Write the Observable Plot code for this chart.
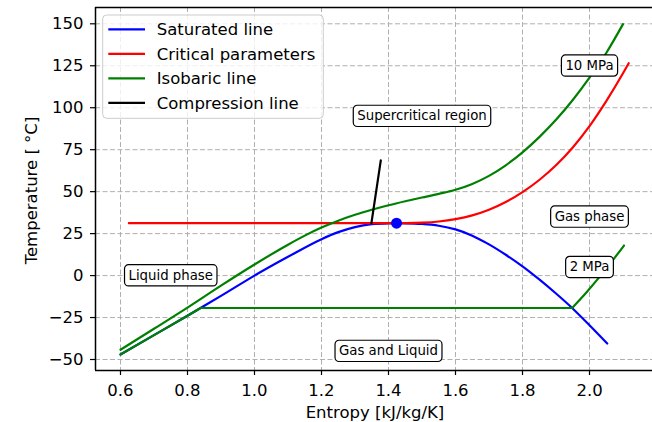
<!DOCTYPE html>
<html><head><meta charset="utf-8">
<script src="https://cdn.jsdelivr.net/npm/d3@7"></script>
<script src="https://cdn.jsdelivr.net/npm/@observablehq/plot@0.6"></script>
<style>
html,body{margin:0;padding:0;background:#fff;}
#chart{width:652px;height:422px;overflow:hidden;}
svg{display:block;}
</style></head><body><div id="chart"></div>
<script>
// ---- data ----
const xTicks = [0.6, 0.8, 1.0, 1.2, 1.4, 1.6, 1.8, 2.0];
const yTicks = [-50, -25, 0, 25, 50, 75, 100, 125, 150];
const xLabel = "Entropy [kJ/kg/K]";
const yLabel = "Temperature [ °C]";
const seriesNames = ["Saturated line", "Critical parameters", "Isobaric line", "Compression line"];
const seriesColors = ["#0000ff", "#ff0000", "#008000", "#000000"];

// saturated line
const satS = [0.6, 0.7, 0.8, 0.839, 0.9, 1.0, 1.1, 1.2, 1.25, 1.3, 1.35, 1.4, 1.424, 1.45, 1.5, 1.55, 1.6, 1.65, 1.7, 1.75, 1.8, 1.85, 1.9, 1.948, 2.0, 2.053];
const satT = [-47, -35.5, -23.9, -19.3, -12.1, 0, 11.2, 21.7, 25.9, 28.9, 30.6, 31.15, 31.2, 31.15, 30.75, 29.7, 27.5, 23.8, 18.6, 12.4, 5.5, -2.3, -10.7, -19.3, -29.6, -40.5];

// critical parameters
const critS = [0.625, 1.424, 1.45, 1.5, 1.55, 1.6, 1.65, 1.7, 1.75, 1.8, 1.85, 1.9, 1.95, 2.0, 2.05, 2.1, 2.117];
const critT = [31.2, 31.2, 31.25, 31.5, 32.2, 33.6, 35.85, 39.2, 43.8, 49.7, 56.95, 65.7, 76.3, 89.0, 103.9, 120.5, 126.5];

// isobar 10 MPa
const iso10S = [0.6, 0.7, 0.8, 0.9, 1.0, 1.1, 1.15, 1.2, 1.25, 1.3, 1.35, 1.4, 1.45, 1.5, 1.55, 1.6, 1.65, 1.7, 1.75, 1.8, 1.85, 1.9, 1.95, 2.0, 2.05, 2.1];
const iso10T = [-44.2, -31.7, -19.1, -6.0, 6.6, 18.4, 23.8, 28.6, 32.7, 36.2, 39.2, 41.9, 44.3, 46.5, 48.7, 51.1, 54.6, 59.4, 65.7, 73.4, 82.5, 92.8, 104.6, 117.9, 132.6, 149.8];

// isobar 2 MPa (liquid, two-phase, gas parts)
const iso2LiqS = [0.6, 0.7, 0.8, 0.839];
const iso2LiqT = [-47, -35.5, -23.9, -19.3];
const iso2MixS = [0.839, 1.948];
const iso2MixT = [-19.3, -19.3];
const iso2GasS = [1.948, 1.99, 2.03, 2.065, 2.103];
const iso2GasT = [-19.3, -10.2, -0.8, 8, 17.9];

// compression line
const compS = [1.349, 1.377];
const compT = [31.2, 68.6];

// critical point
const critPointS = [1.424];
const critPointT = [31.2];

const annotations = ["Supercritical region", "10 MPa", "Gas phase", "2 MPa", "Liquid phase", "Gas and Liquid"];
const annotS = [1.5, 2.0, 2.0, 2.0, 0.75, 1.4];
const annotT = [95, 125, 35, 5, 0, -45];

// ---- build ----
const rows = (S, T) => S.map((s, i) => ({s, T: T[i]}));
const xDomain = [0.5254, 2.194];
const yDomain = [-56.55, 159.71];
const fontFam = "DejaVu Sans, sans-serif";
const fmtY = d => d < 0 ? "\u2212" + Math.abs(d) : String(d);
const gridStyle = {stroke: "#b0b0b0", strokeOpacity: 1, strokeWidth: 1, strokeDasharray: "5,2.5"};
const lw = 2.2;
const lineOpts = c => ({x: "s", y: "T", stroke: c, strokeWidth: lw, curve: "monotone-x"});

const chart = Plot.plot({
  width: 652, height: 422,
  marginLeft: 95, marginRight: 0, marginTop: 7, marginBottom: 52,
  style: {fontFamily: fontFam, fontSize: "16.5px", background: "#fff", color: "#000"},
  x: {domain: xDomain, range: [95, 654], label: null},
  y: {domain: yDomain, range: [370, 7], label: null},
  marks: [
    Plot.gridX(xTicks, gridStyle),
    Plot.gridY(yTicks, gridStyle),
    Plot.line(rows(satS, satT), lineOpts(seriesColors[0])),
    Plot.line(rows(critS, critT), lineOpts(seriesColors[1])),
    Plot.line(rows(iso10S, iso10T), lineOpts(seriesColors[2])),
    Plot.line(rows(iso2LiqS, iso2LiqT), lineOpts(seriesColors[2])),
    Plot.line(rows(iso2MixS, iso2MixT), lineOpts(seriesColors[2])),
    Plot.line(rows(iso2GasS, iso2GasT), lineOpts(seriesColors[2])),
    Plot.line(rows(compS, compT), lineOpts(seriesColors[3])),
    Plot.dot(rows(critPointS, critPointT), {x: "s", y: "T", r: 5.5, fill: seriesColors[0], stroke: "none"}),
    Plot.ruleX([xDomain[0]], {stroke: "#000", strokeWidth: 1.5}),
    Plot.ruleY([yDomain[0], yDomain[1]], {stroke: "#000", strokeWidth: 1.5}),
    Plot.axisX(xTicks, {tickSize: 5, tickPadding: 9, tickFormat: d => d.toFixed(1), label: null, strokeWidth: 1.2}),
    Plot.axisY(yTicks, {tickSize: 5, tickPadding: 7, tickFormat: fmtY, label: null, strokeWidth: 1.2}),
    Plot.text(annotations.map((t, i) => ({t, s: annotS[i], T: annotT[i]})),
      {x: "s", y: "T", text: "t", fontSize: 13.3, fill: "#000", textAnchor: "middle", lineAnchor: "middle"}),
    Plot.text([xLabel], {text: d => d, frameAnchor: "bottom", textAnchor: "middle", lineAnchor: "middle", dy: 42.4, dx: 1, fontSize: 16.5, fill: "#000"}),
    Plot.text([yLabel], {text: d => d, frameAnchor: "left", rotate: -90, textAnchor: "middle", lineAnchor: "middle", dx: -63.3, dy: 1.5, fontSize: 16.5, fill: "#000"})
  ]
});
document.getElementById("chart").appendChild(chart);

// annotation boxes
const NS = "http://www.w3.org/2000/svg";
const annSet = new Set(annotations);
d3.select(chart).selectAll("text").filter(function () { return annSet.has(this.textContent); }).each(function () {
  const bb = this.getBBox();
  const fs = 13.3;
  const w = bb.width + 0.6 * fs, h = 1.6 * fs;
  const cx = bb.x + bb.width / 2, cy = bb.y + bb.height / 2;
  const r = document.createElementNS(NS, "rect");
  r.setAttribute("x", cx - w / 2);
  r.setAttribute("y", cy - h / 2);
  r.setAttribute("width", w);
  r.setAttribute("height", h);
  r.setAttribute("rx", 4);
  r.setAttribute("fill", "#fff");
  r.setAttribute("stroke", "#000");
  r.setAttribute("stroke-width", 1.2);
  const tr = this.getAttribute("transform");
  if (tr) r.setAttribute("transform", tr);
  this.parentNode.insertBefore(r, this);
});

// legend
const lg = d3.select(chart).append("g").attr("font-family", fontFam).attr("font-size", "16.5px").attr("text-anchor", "start");
lg.append("rect").attr("x", 102.7).attr("y", 15).attr("width", 220.6).attr("height", 103.3)
  .attr("rx", 4).attr("fill", "#fff").attr("fill-opacity", 0.8).attr("stroke", "#cccccc").attr("stroke-width", 1);
seriesNames.forEach((name, i) => {
  const yy = 29.3 + i * 24.5;
  lg.append("line").attr("x1", 108.3).attr("x2", 145).attr("y1", yy).attr("y2", yy)
    .attr("stroke", seriesColors[i]).attr("stroke-width", 2.2);
  lg.append("text").attr("x", 156.7).attr("y", yy).attr("dy", "0.35em").attr("fill", "#000")
    .attr("text-anchor", "start").text(name);
});
</script></body></html>
